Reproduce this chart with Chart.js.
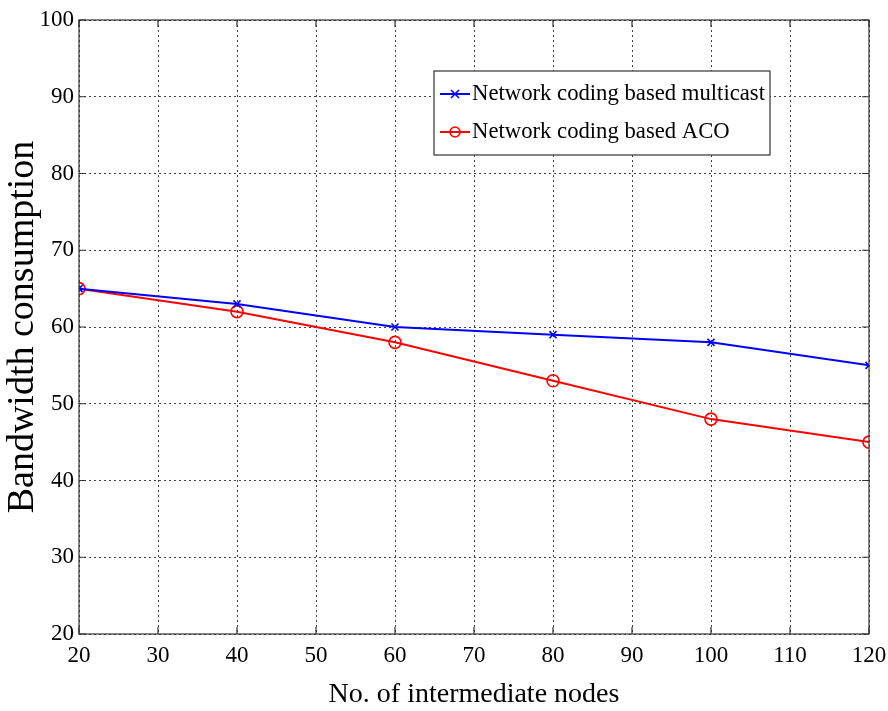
<!DOCTYPE html>
<html>
<head>
<meta charset="utf-8">
<script src="https://cdn.jsdelivr.net/npm/chart.js@4/dist/chart.umd.min.js"></script>
<style>
html,body{margin:0;padding:0;background:#fff;}
#wrap{width:888px;height:711px;}
</style>
</head>
<body>
<div id="wrap"><canvas id="c" width="888" height="711"></canvas></div>
<script>
const nodes = [20, 40, 60, 80, 100, 120];
const multicast = [65, 63, 60, 59, 58, 55];
const aco = [65, 62, 58, 53, 48, 45];
const seriesNames = ['Network coding based multicast', 'Network coding based ACO'];
const xTitle = 'No. of intermediate nodes';
const yTitle = 'Bandwidth consumption';

const FONT = '"Liberation Serif", "Times New Roman", serif';

const frameAndLegend = {
  id: 'frameAndLegend',
  afterDatasetsDraw(chart) {
    const {ctx, chartArea: a} = chart;
    ctx.save();
    ctx.strokeStyle = '#333';
    ctx.lineWidth = 1.2;
    ctx.setLineDash([]);
    ctx.strokeRect(a.left, a.top, a.right - a.left, a.bottom - a.top);
    // inward tick marks
    const xs = chart.scales.x, ys = chart.scales.y;
    ctx.beginPath();
    xs.ticks.forEach(t => {
      const px = xs.getPixelForValue(t.value);
      ctx.moveTo(px, a.bottom); ctx.lineTo(px, a.bottom - 7);
      ctx.moveTo(px, a.top); ctx.lineTo(px, a.top + 7);
    });
    ys.ticks.forEach(t => {
      const py = ys.getPixelForValue(t.value);
      ctx.moveTo(a.left, py); ctx.lineTo(a.left + 7, py);
      ctx.moveTo(a.right, py); ctx.lineTo(a.right - 7, py);
    });
    ctx.stroke();

    // legend box
    const bx = 434, by = 71, bw = 336, bh = 84;
    ctx.fillStyle = '#fff';
    ctx.fillRect(bx, by, bw, bh);
    ctx.strokeStyle = '#333';
    ctx.lineWidth = 1.2;
    ctx.strokeRect(bx, by, bw, bh);
    ctx.font = '22.7px ' + FONT;
    ctx.textBaseline = 'middle';
    chart.data.datasets.forEach((ds, i) => {
      const cy = by + 23 + i * 38;
      ctx.strokeStyle = ds.borderColor;
      ctx.lineWidth = 2;
      ctx.beginPath();
      ctx.moveTo(bx + 6, cy); ctx.lineTo(bx + 36, cy);
      ctx.stroke();
      const mx = bx + 21;
      ctx.lineWidth = 1.6;
      ctx.beginPath();
      if (ds.pointStyle === 'circle') {
        ctx.arc(mx, cy, 5, 0, Math.PI * 2);
      } else {
        ctx.moveTo(mx - 4, cy - 4); ctx.lineTo(mx + 4, cy + 4);
        ctx.moveTo(mx + 4, cy - 4); ctx.lineTo(mx - 4, cy + 4);
      }
      ctx.stroke();
      ctx.fillStyle = '#000';
      ctx.fillText(ds.label, bx + 38, cy);
    });
    ctx.restore();
  }
};

new Chart(document.getElementById('c'), {
  type: 'line',
  data: {
    datasets: [
      {
        label: seriesNames[0],
        data: nodes.map((x, i) => ({x, y: multicast[i]})),
        borderColor: '#0000ff',
        backgroundColor: '#0000ff',
        borderWidth: 2,
        pointStyle: 'crossRot',
        pointRadius: 5,
        pointBorderWidth: 1.6,
        tension: 0,
        fill: false
      },
      {
        label: seriesNames[1],
        data: nodes.map((x, i) => ({x, y: aco[i]})),
        borderColor: '#ff0000',
        backgroundColor: 'rgba(0,0,0,0)',
        borderWidth: 2,
        pointStyle: 'circle',
        pointRadius: 6,
        pointBorderWidth: 1.6,
        tension: 0,
        fill: false
      }
    ]
  },
  options: {
    responsive: false,
    animation: false,
    devicePixelRatio: 1,
    layout: {padding: {left: 0, right: 19, top: 20, bottom: 0}},
    plugins: {legend: {display: false}, tooltip: {enabled: false}},
    scales: {
      x: {
        type: 'linear',
        min: 20, max: 120,
        ticks: {stepSize: 10, color: '#000', font: {family: FONT, size: 23}, padding: 8},
        grid: {color: '#444', lineWidth: 1, drawTicks: false, tickLength: 0},
        border: {display: false, dash: [2, 3]},
        title: {display: true, text: xTitle, color: '#000', font: {family: FONT, size: 28}, padding: {top: 0, bottom: 0}},
        afterFit(s) { s.height = 77; s.paddingLeft = 0; s.paddingRight = 0; }
      },
      y: {
        min: 20, max: 100,
        ticks: {stepSize: 10, color: '#000', font: {family: FONT, size: 23}, padding: 5},
        grid: {color: '#444', lineWidth: 1, drawTicks: false, tickLength: 0},
        border: {display: false, dash: [2, 3]},
        title: {display: true, text: yTitle, color: '#000', font: {family: FONT, size: 38}, padding: {top: 0, bottom: 0}},
        afterFit(s) { s.width = 79; s.paddingTop = 0; s.paddingBottom = 0; }
      }
    }
  },
  plugins: [frameAndLegend]
});
</script>
</body>
</html>
